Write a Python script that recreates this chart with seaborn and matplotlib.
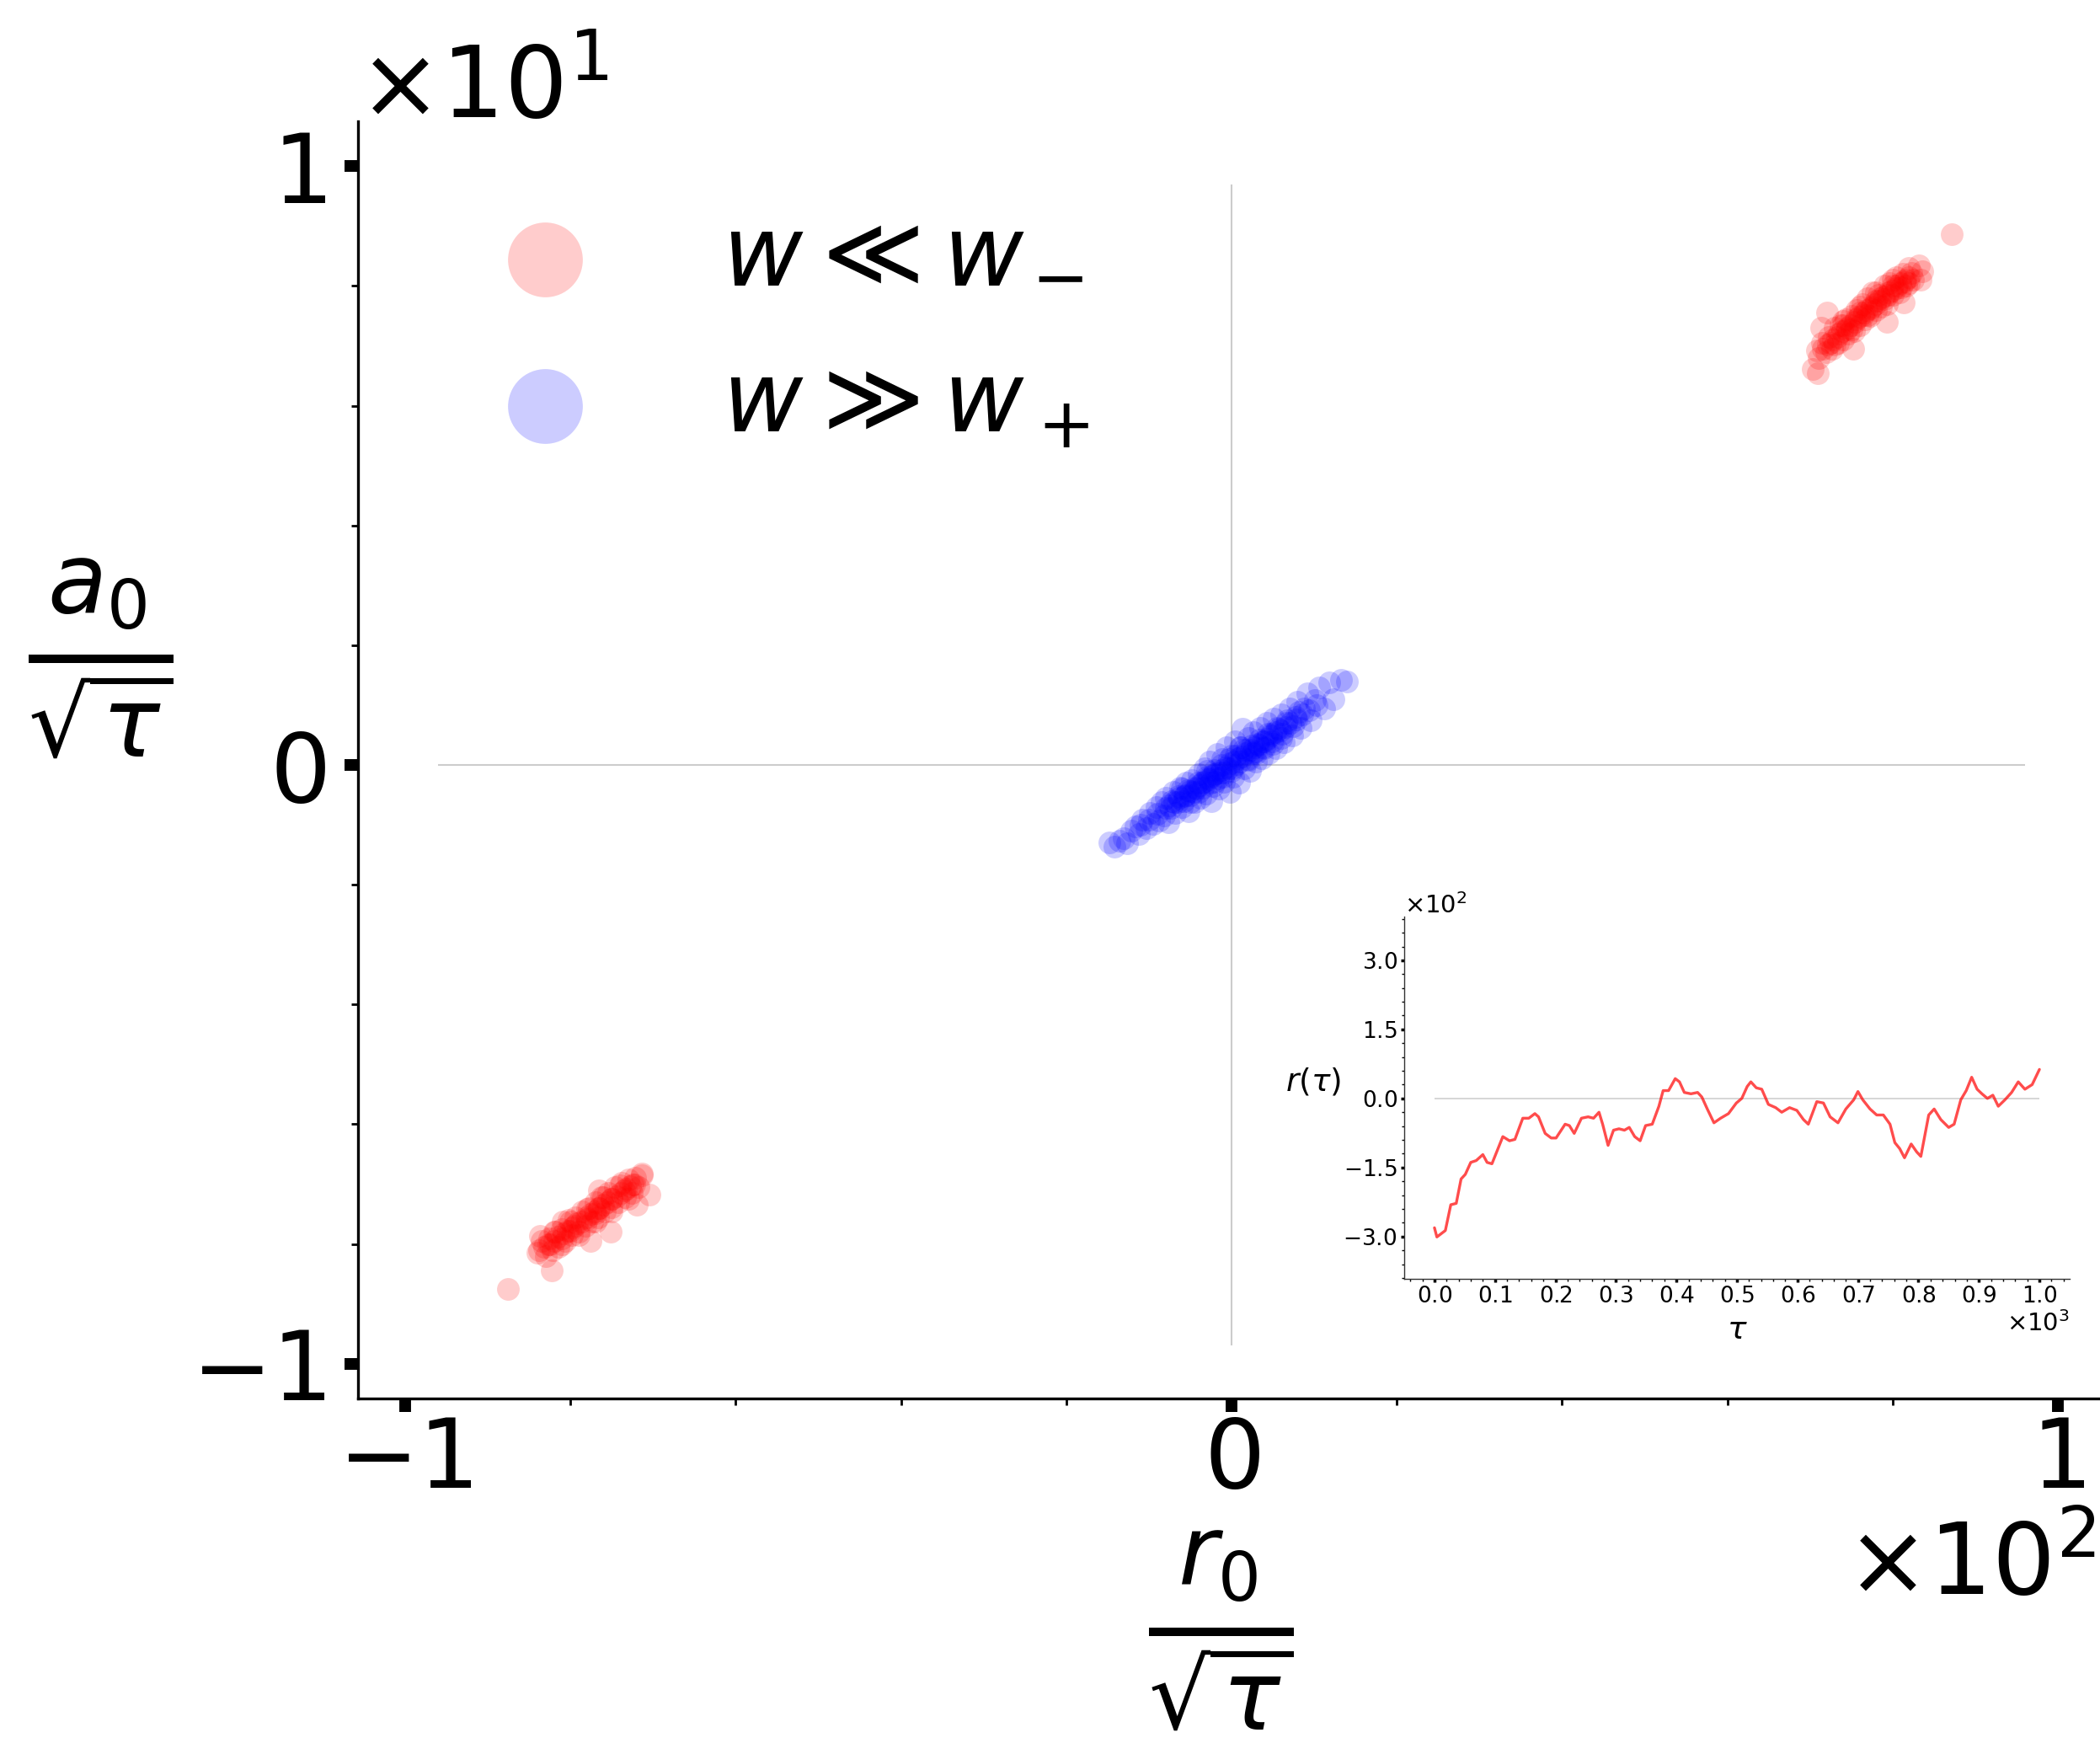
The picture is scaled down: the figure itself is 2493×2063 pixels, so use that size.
import matplotlib
matplotlib.use("Agg")
import matplotlib.pyplot as plt
import matplotlib.transforms as mtransforms
import seaborn as sns
from matplotlib.ticker import ScalarFormatter, AutoMinorLocator, MultipleLocator

# ---------------- data ----------------
# red cluster, upper right (w << w-)
red_up_x = [71.0, 71.5, 72.0, 72.3, 72.7, 73.0, 73.4, 73.7, 74.0, 74.3, 74.6, 75.0, 75.3,
            75.6, 76.0, 76.3, 76.6, 77.0, 77.3, 77.6, 78.0, 78.3, 78.6, 79.0, 79.3, 79.6,
            80.0, 80.4, 80.8, 81.2, 81.6, 82.0, 82.5,
            72.5, 73.5, 74.5, 75.5, 76.5, 77.5, 78.5, 79.5, 80.5, 81.5, 74.0, 76.0, 78.0, 80.0,
            87.1, 70.9, 70.3, 71.3, 72.1, 70.8, 83.4, 83.2, 83.6, 75.2, 79.3, 81.3,
            71.6, 72.2, 72.8, 73.3, 73.9, 74.4, 74.9, 75.4, 75.9, 76.4, 76.9, 77.4, 77.9,
            78.4, 78.9, 79.4, 79.9, 80.4, 80.9, 81.4, 81.9, 82.3, 73.0, 75.0, 77.0, 79.0,
            81.0, 74.0, 76.0, 78.0, 80.0, 82.0]
red_up_y = [6.80, 7.05, 6.90, 7.15, 6.95, 7.30, 7.05, 7.35, 7.10, 7.45, 7.20, 7.50, 7.25,
            7.60, 7.35, 7.70, 7.45, 7.80, 7.50, 7.90, 7.60, 7.85, 7.65, 8.00, 7.70, 8.05,
            7.85, 8.15, 7.90, 8.20, 8.00, 8.30, 8.10,
            7.05, 7.20, 7.30, 7.45, 7.55, 7.65, 7.80, 7.90, 8.00, 8.10, 7.35, 7.55, 7.75, 8.00,
            8.87, 6.55, 6.62, 7.30, 7.55, 6.92, 8.10, 8.35, 8.24, 6.95, 7.40, 7.72,
            6.95, 7.02, 7.10, 7.15, 7.25, 7.28, 7.35, 7.40, 7.48, 7.52, 7.60, 7.63, 7.70,
            7.75, 7.82, 7.85, 7.92, 7.96, 8.05, 8.08, 8.15, 8.22, 7.02, 7.28, 7.52, 7.78,
            7.98, 7.42, 7.65, 7.90, 8.10, 8.05]

# red cluster, lower left (w << w-)
red_lo_x = [-84.0, -83.5, -83.0, -82.6, -82.2, -81.8, -81.4, -81.0, -80.6, -80.2, -79.8,
            -79.4, -79.0, -78.6, -78.2, -77.8, -77.4, -77.0, -76.6, -76.2, -75.8, -75.4,
            -75.0, -74.6, -74.2, -73.8, -73.4, -73.0, -72.6, -72.2, -71.8, -71.3,
            -82.5, -81.0, -79.5, -78.0, -76.5, -75.0, -73.5, -72.5, -80.0, -77.0,
            -87.6, -82.3, -83.8, -83.7, -80.9, -76.5, -70.4, -71.4, -75.1, -77.6, -72.0,
            -83.2, -82.7, -82.0, -81.5, -80.8, -80.3, -79.7, -79.2, -78.7, -78.1, -77.6,
            -77.1, -76.5, -76.0, -75.5, -75.0, -74.4, -73.9, -73.3, -72.8, -72.3,
            -81.0, -79.0, -77.0, -75.0, -73.0, -82.0, -80.0, -78.0, -76.0, -74.0]
red_lo_y = [-8.15, -7.95, -8.20, -7.90, -8.10, -7.80, -8.05, -7.75, -7.95, -7.60, -7.85,
            -7.55, -7.80, -7.45, -7.70, -7.40, -7.62, -7.30, -7.55, -7.22, -7.45, -7.15,
            -7.38, -7.05, -7.30, -6.98, -7.22, -6.92, -7.15, -6.90, -7.05, -6.85,
            -8.00, -7.90, -7.70, -7.58, -7.40, -7.25, -7.10, -7.00, -7.78, -7.48,
            -8.75, -8.44, -8.10, -7.87, -7.63, -7.10, -7.18, -6.82, -7.80, -7.95, -7.35,
            -8.05, -8.00, -7.95, -7.88, -7.82, -7.78, -7.72, -7.66, -7.62, -7.56, -7.50,
            -7.46, -7.40, -7.35, -7.30, -7.25, -7.20, -7.15, -7.08, -7.04, -7.00,
            -8.00, -7.85, -7.62, -7.45, -7.25, -7.80, -7.62, -7.42, -7.22, -7.02]

# blue cluster around the origin (w >> w+)
blue_x = [-14.8, -14.2, -13.6, -13.0, -12.6, -12.1, -11.6, -11.2, -10.8, -10.3, -9.9, -9.5,
          -9.1, -8.8, -8.5, -8.2, -7.9, -7.6, -7.3, -7.0, -6.8, -6.5, -6.2, -6.0, -5.7, -5.5,
          -5.2, -5.0, -4.8, -4.5, -4.3, -4.0, -3.8, -3.6, -3.3, -3.1, -2.9, -2.6, -2.4, -2.2,
          -2.0, -1.7, -1.5, -1.3, -1.1, -0.9, -0.6, -0.4, -0.2, 0.0, 0.2, 0.4, 0.6, 0.9, 1.1,
          1.3, 1.5, 1.8, 2.0, 2.2, 2.5, 2.7, 3.0, 3.2, 3.5, 3.7, 4.0, 4.3, 4.5, 4.8, 5.1, 5.4,
          5.7, 6.0, 6.3, 6.6, 7.0, 7.3, 7.7, 8.0, 8.4, 8.8, 9.2, 9.6, 10.1, 10.6, 11.2, 11.8,
          12.3, 13.2, 14.0,
          -7.2, -6.4, -5.8, -5.3, -4.6, -4.1, -3.5, -3.0, -2.5, -2.1, -1.6, -1.2, -0.8, -0.3,
          0.1, 0.5, 1.0, 1.4, 1.9, 2.4, 2.9, 3.4, 3.9, 4.4, 4.9, 5.5, 6.1, 6.7, 7.4, 8.2,
          -11.0, -10.0, -9.0, -8.0, -7.5, -6.9, -6.3, -5.6, -5.0, -4.4, -3.9, -3.4, -2.8,
          -2.3, -1.8, -1.2, -0.7, -0.2, 0.3, 0.8, 1.2, 1.7, 2.3, 2.8, 3.3, 3.8, 4.3, 4.8,
          5.3, 5.9, 6.5, 7.1, 7.8, 8.6, 9.4, 10.3,
          -6.0, -4.0, -2.0, 0.0, 2.0, 4.0, 6.0, -5.0, -3.0, -1.0, 1.0, 3.0, 5.0]
blue_y = [-1.30, -1.36, -1.27, -1.22, -1.31, -1.10, -1.02, -1.15, -0.92, -1.05, -0.80, -0.98,
          -0.70, -0.93, -0.62, -0.85, -0.55, -0.95, -0.72, -0.45, -0.80, -0.62, -0.38, -0.70,
          -0.52, -0.30, -0.78, -0.50, -0.25, -0.62, -0.40, -0.15, -0.55, -0.30, -0.05, -0.48,
          -0.22, 0.05, -0.60, -0.35, -0.08, 0.18, -0.40, -0.12, 0.10, -0.28, 0.30, -0.05,
          -0.45, 0.15, -0.20, 0.40, 0.02, -0.30, 0.30, 0.60, -0.05, 0.25, 0.45, -0.10, 0.20,
          0.55, 0.05, 0.35, 0.62, 0.12, 0.40, 0.70, 0.20, 0.52, 0.78, 0.28, 0.60, 0.85, 0.38,
          0.70, 0.95, 0.50, 0.80, 1.05, 0.62, 0.95, 1.20, 0.75, 1.08, 1.30, 0.95, 1.38, 1.10,
          1.42, 1.40,
          -0.60, -0.52, -0.60, -0.42, -0.45, -0.30, -0.38, -0.20, -0.30, -0.15, -0.22, 0.00,
          -0.12, 0.10, -0.05, 0.15, 0.05, 0.25, 0.10, 0.32, 0.22, 0.42, 0.30, 0.52, 0.40,
          0.62, 0.52, 0.75, 0.65, 0.88,
          -1.00, -0.92, -0.82, -0.72, -0.68, -0.62, -0.55, -0.50, -0.44, -0.38, -0.34, -0.28,
          -0.24, -0.18, -0.14, -0.08, -0.04, 0.03, 0.06, 0.12, 0.14, 0.20, 0.25, 0.30, 0.34,
          0.40, 0.44, 0.50, 0.55, 0.58, 0.64, 0.70, 0.76, 0.84, 0.92, 1.00,
          -0.40, -0.45, -0.28, -0.10, 0.08, 0.28, 0.45, -0.62, -0.10, -0.20, 0.30, 0.20, 0.35]

# inset time series r(tau)
tau = [0, 4, 18, 27, 36, 44, 51, 60, 69, 80, 87, 95, 113, 124, 133, 146, 156, 166, 172, 183,
       193, 201, 216, 223, 231, 243, 254, 263, 272, 278, 287, 296, 305, 314, 322, 331, 340,
       349, 360, 371, 378, 387, 398, 405, 413, 424, 435, 442, 451, 462, 473, 486, 499, 508,
       517, 523, 532, 541, 552, 564, 574, 587, 599, 610, 618, 632, 643, 654, 667, 680, 693,
       700, 708, 720, 731, 742, 753, 761, 769, 777, 788, 797, 804, 817, 826, 837, 850, 859,
       870, 879, 888, 897, 905, 914, 923, 932, 943, 954, 965, 976, 988, 1000]
r_tau = [-281, -301, -287, -231, -228, -175, -165, -139, -135, -122, -139, -142, -83, -92,
         -89, -43, -43, -33, -40, -76, -86, -86, -56, -59, -76, -43, -40, -43, -30, -56, -102,
         -69, -66, -69, -63, -83, -92, -59, -56, -17, 17, 17, 43, 36, 13, 10, 13, 3, -23, -53,
         -43, -33, -10, 0, 26, 36, 23, 20, -13, -20, -30, -20, -26, -46, -56, -7, -10, -40,
         -53, -23, -3, 15, -3, -23, -36, -36, -56, -96, -109, -129, -99, -116, -126, -36,
         -23, -46, -63, -56, -3, 17, 46, 20, 10, 0, 7, -17, -3, 13, 36, 20, 30, 63]

# legend: "w << w_-" is drawn as "w << w" plus a subscript minus (mathtext clips a lone
# subscript minus in this environment), "w >> w_+" directly
legend_labels = [r"$w \ll w$", r"$w \gg w_+$"]
legend_sub_minus = "\u2212"
main_xlabel = r"$\frac{r_0}{\sqrt{\tau}}$"
main_ylabel = r"$\frac{a_0}{\sqrt{\tau}}$"
inset_xlabel = r"$\tau$"
inset_ylabel = r"$r(\tau)$"

# ---------------- figure ----------------
sns.set_style("ticks")
plt.rcParams["font.family"] = ["DejaVu Sans"]
plt.rcParams["mathtext.fontset"] = "dejavusans"
for k in ("text.color", "axes.labelcolor", "xtick.color", "ytick.color", "axes.edgecolor"):
    plt.rcParams[k] = "black"

W, H = 2493, 2063
fig = plt.figure(figsize=(W / 100, H / 100), dpi=100)
ax = fig.add_axes([425 / W, 1 - 1660 / H, (2499 - 425) / W, (1660 - 144) / H])

ax.hlines(0, -96, 96, color="#cccccc", lw=1.5, zorder=0)
ax.vlines(0, -9.7, 9.7, color="#cccccc", lw=1.5, zorder=0)

red_x = red_up_x + red_lo_x
red_y = red_up_y + red_lo_y
sns.scatterplot(x=red_x, y=red_y, color="red", alpha=0.2, s=375, linewidth=0,
                label=legend_labels[0], ax=ax)
sns.scatterplot(x=blue_x, y=blue_y, color="blue", alpha=0.2, s=375, linewidth=0,
                label=legend_labels[1], ax=ax)

ax.set_xlim(-105.7, 105.7)
ax.set_ylim(-10.58, 10.75)
ax.xaxis.set_major_locator(MultipleLocator(100))
ax.yaxis.set_major_locator(MultipleLocator(10))
ax.xaxis.set_minor_locator(AutoMinorLocator(5))
ax.yaxis.set_minor_locator(AutoMinorLocator(5))
for axis in (ax.xaxis, ax.yaxis):
    f = ScalarFormatter(useMathText=True)
    f.set_powerlimits((0, 0))
    axis.set_major_formatter(f)

for s in ("top", "right"):
    ax.spines[s].set_visible(False)
for s in ("left", "bottom"):
    ax.spines[s].set_linewidth(2.4)
    ax.spines[s].set_color("black")

ax.tick_params(which="major", length=11.5, width=10, labelsize=82, color="black")
ax.tick_params(which="minor", length=6, width=2, color="black")
ax.tick_params(axis="x", which="major", pad=2)
ax.tick_params(axis="y", which="major", pad=16)
ax.xaxis.get_offset_text().set_fontsize(85)
ax.yaxis.get_offset_text().set_fontsize(85)
ax.xaxis.get_offset_text().set_x(0.9945)
ax.xaxis.OFFSETTEXTPAD = 10

ax.set_xlabel(main_xlabel, fontsize=118)
ax.xaxis.set_label_coords(0.494, -0.103)
ax.xaxis.get_label().set_va("top")
ax.set_ylabel(main_ylabel, fontsize=118, rotation=0, ha="center", va="bottom")
ax.yaxis.set_label_coords(-0.1475, 0.5)

leg = ax.legend(loc="upper left", frameon=False, fontsize=84, markerscale=3.3)

# ---------------- inset ----------------
ins = fig.add_axes([1667 / W, 1 - 1518 / H, (2457 - 1667) / W, (1518 - 1088) / H])
ins.hlines(0, 0, 1000, color="#d0d0d0", lw=1.2, zorder=0)
sns.lineplot(x=tau, y=r_tau, color="red", alpha=0.7, lw=2.4, ax=ins)
ins.set_xlim(-50, 1050)
ins.set_ylim(-392, 395)
ins.xaxis.set_major_locator(MultipleLocator(100))
ins.yaxis.set_major_locator(MultipleLocator(150))
ins.xaxis.set_minor_locator(AutoMinorLocator(5))
ins.yaxis.set_minor_locator(AutoMinorLocator(5))
for axis in (ins.xaxis, ins.yaxis):
    f = ScalarFormatter(useMathText=True)
    f.set_powerlimits((0, 0))
    axis.set_major_formatter(f)
for s in ("top", "right"):
    ins.spines[s].set_visible(False)
for s in ("left", "bottom"):
    ins.spines[s].set_linewidth(1.0)
    ins.spines[s].set_color("#333333")
ins.tick_params(which="major", length=3, width=2.5, labelsize=19, pad=3)
ins.tick_params(which="minor", length=2.5, width=1)
ins.xaxis.get_offset_text().set_fontsize(21)
ins.yaxis.get_offset_text().set_fontsize(21)
ins.set_xlabel(inset_xlabel, fontsize=27, labelpad=6)
ins.set_ylabel(inset_ylabel, fontsize=27, rotation=0, ha="center", va="bottom")
ins.yaxis.set_label_coords(-0.137, 0.5)
ins.patch.set_alpha(0)

# ---- subscript minus of the first legend entry, aligned with the "+" of the second ----
fig.canvas.draw()
renderer = fig.canvas.get_renderer()
t0, t1 = leg.get_texts()
b1 = t1.get_window_extent(renderer)
bx0, by0 = t0.get_transform().transform(t0.get_position())
sub_fs = 84 * 0.7
fig.text(b1.x1, by0 - 17, legend_sub_minus, fontsize=sub_fs, ha="right", va="baseline",
         transform=mtransforms.IdentityTransform())

fig.savefig("out.png", dpi=100)
